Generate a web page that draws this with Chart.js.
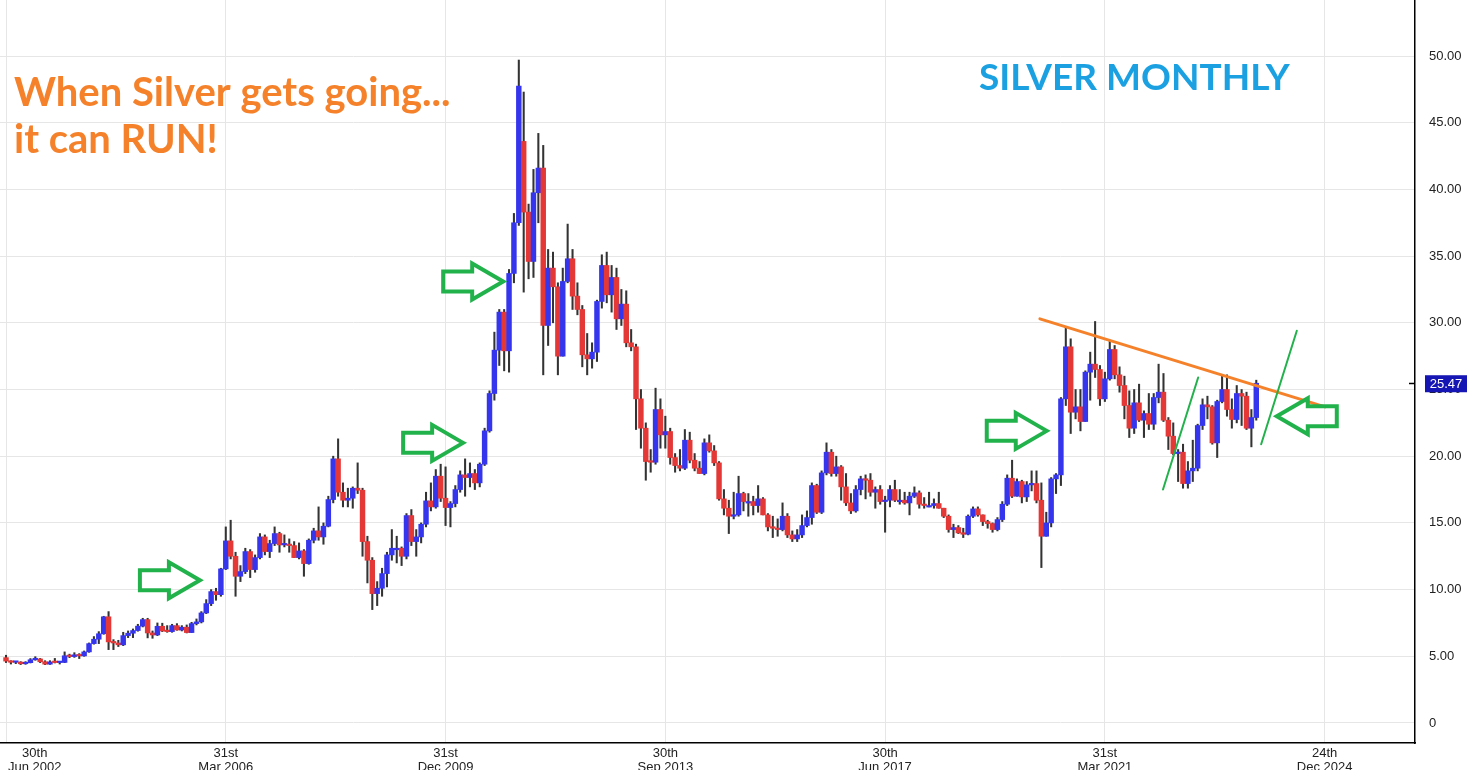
<!DOCTYPE html>
<html>
<head>
<meta charset="utf-8">
<script src="https://cdn.jsdelivr.net/npm/chart.js@4.4.1/dist/chart.umd.min.js"></script>
<style>
  html, body { margin: 0; padding: 0; background: #fff; }
  #wrap { width: 1469px; height: 770px; position: relative; }
</style>
</head>
<body>
<div id="wrap"><canvas id="chart"></canvas></div>
<script>
// Velas mensuales de plata, de jul 2002 a nov 2023 (una fila por año).
const OPEN = [
    4.90, 4.64, 4.55, 4.57, 4.44, 4.52,
    4.74, 4.80, 4.59, 4.41, 4.58, 4.53, 4.54, 5.04, 4.98, 5.11, 5.03, 5.33,
    5.95, 6.28, 6.69, 7.96, 6.08, 6.00, 5.86, 6.55, 6.73, 6.93, 7.26, 7.75,
    6.75, 6.60, 7.25, 6.90, 6.85, 7.30, 6.97, 7.18, 6.78, 7.45, 7.58, 8.25,
    8.95, 9.85, 9.62, 11.55, 13.65, 12.50, 11.00, 11.35, 12.85, 11.50, 12.40, 13.95,
    12.85, 13.45, 14.20, 13.35, 13.40, 13.30, 12.40, 12.90, 11.95, 13.70, 14.40, 13.95,
    14.75, 16.75, 19.80, 17.30, 16.70, 16.85, 17.60, 17.45, 13.60, 12.20, 9.70, 10.10,
    11.20, 12.60, 13.10, 13.10, 12.50, 15.55, 13.60, 13.95, 14.90, 16.65, 16.20, 18.50,
    16.85, 16.15, 16.45, 17.50, 18.60, 18.40, 18.70, 18.00, 19.40, 21.90, 24.70, 27.95,
    30.80, 27.90, 33.70, 37.50, 43.60, 38.30, 34.60, 39.75, 41.60, 29.80, 34.10, 32.70,
    27.50, 33.10, 34.80, 32.00, 31.00, 27.60, 27.30, 27.80, 31.60, 34.30, 32.10, 33.40,
    30.30, 31.40, 28.50, 28.20, 24.30, 22.10, 19.60, 19.55, 23.50, 21.60, 21.85, 19.90,
    19.30, 19.10, 21.20, 19.70, 19.10, 18.70, 21.00, 20.40, 19.50, 16.80, 16.10, 15.50,
    15.60, 17.20, 16.60, 16.60, 16.30, 16.80, 15.60, 14.70, 14.60, 14.50, 15.50, 14.10,
    13.80, 14.10, 14.80, 15.40, 17.80, 15.80, 18.75, 20.30, 18.70, 19.20, 17.70, 16.50,
    15.90, 17.50, 18.30, 18.20, 17.30, 17.50, 16.60, 16.70, 17.50, 16.70, 16.70, 16.50,
    17.00, 17.25, 16.40, 16.30, 16.30, 16.45, 16.10, 15.50, 14.50, 14.65, 14.25, 14.15,
    15.50, 16.05, 15.60, 15.10, 14.95, 14.50, 15.25, 16.40, 18.35, 17.00, 18.10, 16.95,
    17.85, 17.95, 16.70, 14.00, 15.00, 18.30, 18.60, 24.30, 28.20, 23.30, 23.70, 22.60,
    26.30, 26.90, 26.50, 24.30, 25.80, 28.00, 26.10, 25.30, 23.80, 22.10, 24.00, 22.70,
    23.20, 22.40, 24.40, 24.80, 22.70, 21.50, 20.20, 20.30, 17.95, 18.90, 19.10, 22.30,
    23.85, 23.70, 21.00, 24.10, 25.00, 23.50, 22.75, 24.70, 24.50, 22.10, 22.90
];
const HIGH = [
    5.08, 4.67, 4.62, 4.60, 4.60, 4.83,
    4.97, 4.84, 4.67, 4.67, 4.84, 4.62, 5.33, 5.16, 5.27, 5.20, 5.40, 6.00,
    6.48, 6.85, 8.00, 8.35, 6.25, 6.20, 6.80, 6.90, 7.05, 7.40, 7.85, 7.85,
    6.90, 7.50, 7.48, 7.30, 7.40, 7.45, 7.30, 7.35, 7.55, 7.80, 8.35, 9.25,
    10.00, 10.10, 11.60, 14.70, 15.20, 12.80, 11.80, 13.10, 13.00, 12.60, 14.20, 14.10,
    13.70, 14.70, 14.30, 14.10, 13.80, 13.60, 13.50, 13.00, 13.80, 14.60, 16.20, 15.00,
    17.00, 20.00, 21.30, 18.00, 17.60, 17.70, 19.50, 17.60, 14.00, 12.40, 10.60, 11.60,
    12.80, 14.50, 14.00, 13.20, 15.70, 16.00, 14.50, 15.00, 17.30, 18.00, 19.00, 19.40,
    19.20, 16.60, 17.80, 18.90, 19.80, 19.50, 19.00, 19.50, 22.10, 24.90, 29.30, 31.00,
    31.00, 34.00, 38.20, 49.70, 47.30, 38.90, 41.50, 44.20, 43.30, 35.50, 35.30, 33.00,
    34.10, 37.40, 35.50, 33.00, 31.30, 29.20, 28.50, 31.70, 35.10, 35.30, 34.30, 34.10,
    32.50, 32.40, 29.50, 28.40, 25.00, 22.50, 20.50, 25.10, 24.30, 23.00, 22.10, 20.20,
    20.50, 22.00, 21.80, 20.20, 19.60, 21.30, 21.60, 20.80, 19.60, 17.50, 16.70, 17.30,
    18.50, 17.30, 17.20, 17.00, 17.80, 16.90, 15.70, 15.50, 15.30, 16.50, 15.70, 14.40,
    14.50, 15.60, 15.90, 18.00, 17.90, 18.90, 21.00, 20.50, 20.00, 19.30, 18.70, 17.20,
    17.80, 18.50, 18.60, 18.70, 17.70, 17.80, 17.00, 17.80, 18.20, 17.50, 17.30, 17.30,
    17.70, 17.40, 16.90, 17.30, 16.80, 17.30, 16.10, 15.60, 14.90, 14.80, 14.60, 15.60,
    16.20, 16.20, 15.60, 15.20, 15.00, 15.40, 16.60, 18.60, 19.70, 18.30, 18.20, 18.10,
    18.90, 18.90, 18.00, 15.80, 18.40, 18.70, 24.40, 29.70, 28.80, 25.00, 25.00, 26.40,
    27.80, 30.10, 26.80, 26.30, 28.70, 28.30, 26.70, 26.00, 24.90, 25.00, 25.40, 23.40,
    24.70, 24.70, 26.90, 26.20, 22.90, 22.50, 20.50, 20.90, 19.60, 21.20, 22.40, 24.30,
    24.50, 23.80, 24.20, 26.10, 26.10, 24.30, 25.30, 25.00, 24.80, 23.50, 25.70
];
const LOW = [
    4.53, 4.42, 4.45, 4.38, 4.40, 4.50,
    4.70, 4.52, 4.37, 4.39, 4.50, 4.42, 4.52, 4.90, 4.92, 4.83, 5.00, 5.30,
    5.91, 5.95, 6.65, 5.50, 5.50, 5.73, 5.80, 6.40, 6.40, 6.88, 7.20, 6.38,
    6.35, 6.55, 6.85, 6.80, 6.80, 6.95, 6.90, 6.75, 6.78, 7.35, 7.50, 8.20,
    8.80, 9.20, 9.50, 11.50, 12.30, 9.50, 10.60, 11.20, 10.90, 11.30, 12.30, 12.60,
    12.40, 13.30, 12.80, 13.20, 12.80, 12.40, 12.30, 11.00, 11.90, 13.50, 13.70, 13.40,
    14.70, 16.50, 17.00, 16.20, 16.20, 16.10, 17.20, 12.50, 10.50, 8.50, 8.80, 9.50,
    10.20, 12.20, 12.00, 11.80, 12.30, 13.30, 12.50, 13.50, 14.70, 15.90, 16.10, 16.60,
    14.80, 14.70, 16.20, 17.30, 17.00, 17.70, 17.50, 17.70, 19.30, 21.80, 24.20, 26.80,
    26.40, 26.30, 33.00, 37.30, 32.30, 33.30, 33.40, 37.50, 26.10, 28.30, 30.00, 26.10,
    27.50, 33.00, 31.00, 30.60, 26.70, 26.10, 26.60, 27.10, 31.10, 31.50, 30.80, 29.50,
    29.80, 28.20, 27.90, 22.00, 20.60, 18.20, 18.80, 19.40, 20.60, 20.60, 19.40, 18.80,
    18.90, 19.00, 19.50, 18.90, 18.70, 18.60, 20.30, 19.30, 16.70, 15.60, 14.20, 15.30,
    15.50, 15.90, 15.50, 15.60, 15.80, 15.60, 14.40, 13.90, 14.00, 14.40, 13.90, 13.60,
    13.60, 13.90, 14.70, 14.90, 15.70, 15.70, 18.60, 18.50, 18.50, 16.70, 16.30, 15.70,
    15.80, 17.10, 16.80, 17.00, 16.10, 16.40, 14.30, 16.20, 16.60, 16.40, 16.40, 15.60,
    16.90, 16.10, 16.10, 16.20, 16.10, 16.10, 15.40, 14.30, 13.90, 14.20, 13.90, 14.10,
    15.40, 15.50, 14.80, 14.60, 14.30, 14.40, 15.10, 16.30, 16.90, 17.00, 16.50, 16.60,
    17.40, 16.50, 11.65, 14.00, 14.70, 17.20, 17.80, 23.80, 21.70, 22.80, 21.90, 22.60,
    24.20, 25.90, 23.80, 24.10, 25.70, 25.80, 24.80, 22.80, 21.40, 21.70, 22.60, 21.40,
    22.00, 22.00, 24.00, 22.60, 20.50, 20.10, 18.10, 17.60, 17.60, 18.10, 18.90, 22.00,
    22.80, 20.90, 19.90, 24.00, 23.00, 22.10, 22.50, 22.30, 22.00, 20.70, 22.70
];
const CLOSE = [
    4.64, 4.55, 4.57, 4.44, 4.52, 4.74,
    4.80, 4.59, 4.41, 4.58, 4.53, 4.54, 5.04, 4.98, 5.11, 5.03, 5.33, 5.95,
    6.28, 6.69, 7.96, 6.08, 6.00, 5.86, 6.55, 6.73, 6.93, 7.26, 7.75, 6.75,
    6.60, 7.25, 6.90, 6.85, 7.30, 6.97, 7.18, 6.78, 7.45, 7.58, 8.25, 8.95,
    9.85, 9.62, 11.55, 13.65, 12.50, 11.00, 11.35, 12.85, 11.50, 12.40, 13.95, 12.85,
    13.45, 14.20, 13.35, 13.40, 13.30, 12.40, 12.90, 11.95, 13.70, 14.40, 13.95, 14.75,
    16.75, 19.80, 17.30, 16.70, 16.85, 17.60, 17.45, 13.60, 12.20, 9.70, 10.10, 11.20,
    12.60, 13.10, 13.10, 12.50, 15.55, 13.60, 13.95, 14.90, 16.65, 16.20, 18.50, 16.85,
    16.15, 16.45, 17.50, 18.60, 18.40, 18.70, 18.00, 19.40, 21.90, 24.70, 27.95, 30.80,
    27.90, 33.70, 37.50, 47.75, 38.30, 34.60, 39.75, 41.60, 29.80, 34.10, 32.70, 27.50,
    33.10, 34.80, 32.00, 31.00, 27.60, 27.30, 27.80, 31.60, 34.30, 32.10, 33.40, 30.30,
    31.40, 28.50, 28.20, 24.30, 22.10, 19.60, 19.55, 23.50, 21.60, 21.85, 19.90, 19.30,
    19.10, 21.20, 19.70, 19.10, 18.70, 21.00, 20.40, 19.50, 16.80, 16.10, 15.50, 15.60,
    17.20, 16.60, 16.60, 16.30, 16.80, 15.60, 14.70, 14.60, 14.50, 15.50, 14.10, 13.80,
    14.10, 14.80, 15.40, 17.80, 15.80, 18.75, 20.30, 18.70, 19.20, 17.70, 16.50, 15.90,
    17.50, 18.30, 18.20, 17.30, 17.50, 16.60, 16.70, 17.50, 16.70, 16.70, 16.50, 17.00,
    17.25, 16.40, 16.30, 16.30, 16.45, 16.10, 15.50, 14.50, 14.65, 14.25, 14.15, 15.50,
    16.05, 15.60, 15.10, 14.95, 14.50, 15.25, 16.40, 18.35, 17.00, 18.10, 16.95, 17.85,
    17.95, 16.70, 14.00, 15.00, 18.30, 18.60, 24.30, 28.20, 23.30, 23.70, 22.60, 26.30,
    26.90, 26.50, 24.30, 25.80, 28.00, 26.10, 25.30, 23.80, 22.10, 24.00, 22.70, 23.20,
    22.40, 24.40, 24.80, 22.70, 21.50, 20.20, 20.30, 17.95, 18.90, 19.10, 22.30, 23.85,
    23.70, 21.00, 24.10, 25.00, 23.50, 22.75, 24.70, 24.50, 22.10, 22.90, 25.47
];

// Eje X: índice de mes contado desde jul 2002
const TICK_INDEX = [0, 45, 90, 135, 180, 225, 270];
const TICK_LABELS = [
    ['30th', 'Jun 2002'], ['31st', 'Mar 2006'], ['31st', 'Dec 2009'], ['30th', 'Sep 2013'],
    ['30th', 'Jun 2017'], ['31st', 'Mar 2021'], ['24th', 'Dec 2024']
];
const Y_TICKS = [0, 5, 10, 15, 20, 25, 30, 35, 40, 45, 50];
const LAST_PRICE = 25.47;

// Anotaciones en coordenadas de datos: [mes, precio]
const TREND_LINE = [[211.7, 30.3], [270.1, 23.7]];
const GREEN_LINES = [[[236.9, 17.5], [244.1, 25.9]], [[257.0, 20.9], [264.3, 29.4]]];
const ARROWS = [[39.7, 10.7, 1], [93.6, 21.0, 1], [101.8, 33.1, 1], [213.1, 21.9, 1], [260.2, 23.0, -1]];

const COLOR_UP = '#3535ee';
const COLOR_DOWN = '#e33836';
const COLOR_WICK = '#333333';
const COLOR_GRID = '#e6e6e6';
const COLOR_ORANGE = '#f5822a';
const COLOR_GREEN = '#22b24c';
const COLOR_TITLE = '#1ba1e2';
const COLOR_TEXT = '#222222';

const bodies = OPEN.map((o, i) => ({ x: i, y: [o, CLOSE[i]] }));
const wicks = LOW.map((l, i) => ({ x: i, y: [l, HIGH[i]] }));
const bodyColors = OPEN.map((o, i) => (CLOSE[i] >= o ? COLOR_UP : COLOR_DOWN));

function drawArrow(ctx, tx, ty, dir) {
    const len = 60, head = 31, headH = 18, shaftH = 10;
    const pts = [[0, 0], [-head, -headH], [-head, -shaftH], [-len, -shaftH],
        [-len, shaftH], [-head, shaftH], [-head, headH]];
    ctx.beginPath();
    pts.forEach(([px, py], k) => {
        const X = tx + px * dir, Y = ty + py;
        if (k === 0) ctx.moveTo(X, Y); else ctx.lineTo(X, Y);
    });
    ctx.closePath();
    ctx.stroke();
}

const overlay = {
    id: 'overlay',
    afterDatasetsDraw(chart) {
        const { ctx, scales: { x, y } } = chart;
        const P = ([a, b]) => [x.getPixelForValue(a), y.getPixelForValue(b)];
        ctx.save();
        ctx.lineCap = 'round';

        ctx.strokeStyle = COLOR_ORANGE;
        ctx.lineWidth = 3;
        const [a1, a2] = TREND_LINE.map(P);
        ctx.beginPath(); ctx.moveTo(a1[0], a1[1]); ctx.lineTo(a2[0], a2[1]); ctx.stroke();

        ctx.strokeStyle = COLOR_GREEN;
        ctx.lineWidth = 2;
        GREEN_LINES.forEach(seg => {
            const [p, q] = seg.map(P);
            ctx.beginPath(); ctx.moveTo(p[0], p[1]); ctx.lineTo(q[0], q[1]); ctx.stroke();
        });

        ctx.lineWidth = 4;
        ctx.lineJoin = 'miter';
        ARROWS.forEach(([i, v, dir]) => {
            const [tx, ty] = P([i, v]);
            drawArrow(ctx, tx, ty, dir);
        });
        ctx.restore();
    },
    afterDraw(chart) {
        const { ctx, scales: { x, y }, chartArea } = chart;
        ctx.save();

        // títulos
        ctx.textBaseline = 'alphabetic';
        ctx.textAlign = 'left';
        ctx.fillStyle = COLOR_ORANGE;
        ctx.font = 'bold 40px Lato, "Open Sans", sans-serif';
        ctx.fillText('When Silver gets going...', 14, 106);
        ctx.fillText('it can RUN!', 14, 153);
        ctx.fillStyle = COLOR_TITLE;
        ctx.font = 'bold 37px Lato, "Open Sans", sans-serif';
        ctx.fillText('SILVER MONTHLY', 979, 90);

        // etiquetas del eje X en dos líneas
        ctx.fillStyle = COLOR_TEXT;
        ctx.font = '13px "Liberation Sans", Arial, sans-serif';
        ctx.textAlign = 'center';
        ctx.textBaseline = 'middle';
        TICK_INDEX.forEach((t, k) => {
            const lines = TICK_LABELS[k];
            const w = Math.max(...lines.map(s => ctx.measureText(s).width));
            let cx = x.getPixelForValue(t);
            cx = Math.max(cx, chartArea.left + w / 2 + 8);
            ctx.fillText(lines[0], cx, chartArea.bottom + 10);
            ctx.fillText(lines[1], cx, chartArea.bottom + 24);
        });

        // precio actual
        const py = y.getPixelForValue(LAST_PRICE);
        ctx.fillStyle = '#000';
        ctx.fillRect(chartArea.right - 6, py - 0.5, 5, 1.5);
        ctx.fillStyle = '#1616b4';
        ctx.fillRect(chartArea.right + 10, py - 8, 42, 17);
        ctx.fillStyle = '#fff';
        ctx.textAlign = 'center';
        ctx.fillText(LAST_PRICE.toFixed(2), chartArea.right + 31, py + 1);
        ctx.restore();
    }
};

new Chart(document.getElementById('chart'), {
    type: 'bar',
    data: {
        datasets: [
            {
                label: 'body',
                data: bodies,
                backgroundColor: bodyColors,
                barThickness: 4.8,
                minBarLength: 1.5,
                grouped: false,
                order: 0
            },
            {
                label: 'wick',
                data: wicks,
                backgroundColor: COLOR_WICK,
                barThickness: 1.4,
                grouped: false,
                order: 1
            }
        ]
    },
    options: {
        responsive: true,
        maintainAspectRatio: false,
        animation: false,
        events: [],
        layout: { padding: 0 },
        plugins: {
            legend: { display: false },
            tooltip: { enabled: false }
        },
        scales: {
            x: {
                type: 'linear',
                offset: false,
                min: -1.23,
                max: 288.5,
                afterBuildTicks: (s) => { s.ticks = TICK_INDEX.map(v => ({ value: v })); },
                afterFit: (s) => { s.height = 27; s.paddingLeft = 0; s.paddingRight = 0; },
                grid: { color: COLOR_GRID, drawTicks: false, offset: false },
                border: { color: '#000', width: 1.5 },
                ticks: { display: false }
            },
            y: {
                position: 'right',
                min: -1.5,
                max: 54.2,
                afterBuildTicks: (s) => { s.ticks = Y_TICKS.map(v => ({ value: v })); },
                afterFit: (s) => { s.width = 54; s.paddingTop = 0; s.paddingBottom = 0; },
                grid: { color: COLOR_GRID, drawTicks: false },
                border: { color: '#000', width: 1.5 },
                ticks: {
                    padding: 14,
                    color: COLOR_TEXT,
                    font: { size: 13, family: '"Liberation Sans", Arial, sans-serif' },
                    callback: (v) => (v === 0 ? '0' : v.toFixed(2))
                }
            }
        }
    },
    plugins: [overlay]
});
</script>
</body>
</html>
